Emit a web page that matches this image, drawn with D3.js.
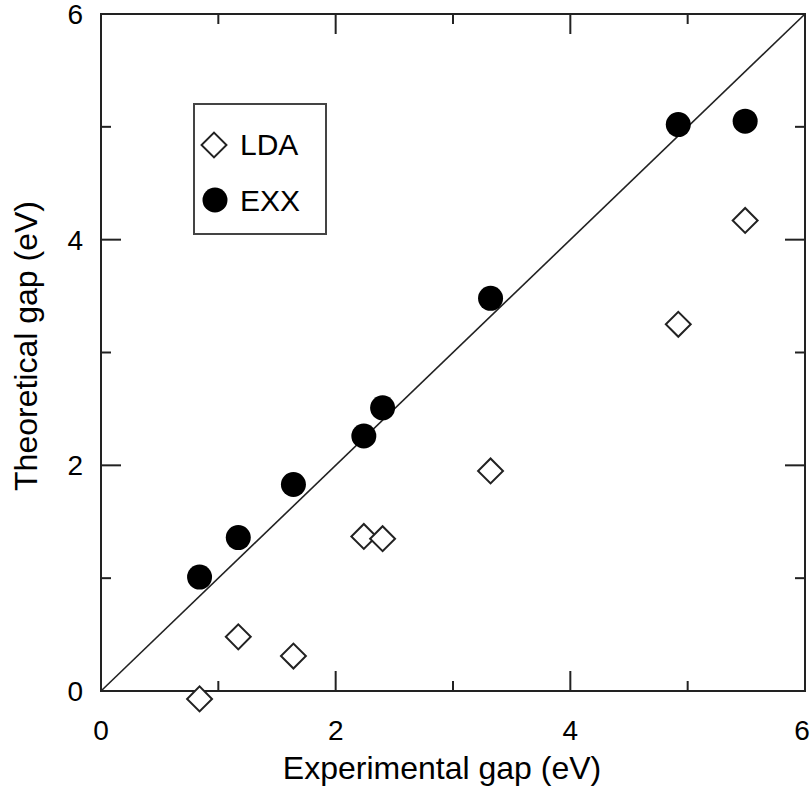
<!DOCTYPE html>
<html>
<head>
  <meta charset="utf-8">
  <script src="https://d3js.org/d3.v7.min.js"></script>
  <style>
    body { margin: 0; background: #fff; }
    svg { font-family: "Liberation Sans", Arial, sans-serif; }
  </style>
</head>
<body>
  <svg width="811" height="789"></svg>

  <script>
    // Experimental gaps (x) and theoretical values for each method
    const expGap = [0.84, 1.17, 1.64, 2.24, 2.40, 3.32, 4.92, 5.49];
    const ldaGap = [-0.07, 0.48, 0.31, 1.37, 1.35, 1.95, 3.25, 4.17];
    const exxGap = [1.01, 1.36, 1.83, 2.26, 2.51, 3.48, 5.02, 5.05];
    const majorTicks = [0, 2, 4, 6];
    const minorTicks = [1, 3, 5];
    const legendLabels = ["LDA", "EXX"];

    const svg = d3.select("svg");
    const pLeft = 101, pRight = 805, pTop = 14, pBottom = 691;

    const x = d3.scaleLinear().domain([0, 6]).range([pLeft, pRight]);
    const y = d3.scaleLinear().domain([0, 6]).range([pBottom, pTop]);

    const ink = "#222";

    // ticks on all four sides, pointing inward
    const tickG = svg.append("g").attr("stroke", ink).attr("stroke-width", 2);
    const allTicks = majorTicks.slice(1, -1).map(v => ({ v, len: 20 }))
      .concat(minorTicks.map(v => ({ v, len: 10 })));

    allTicks.forEach(t => {
      tickG.append("line").attr("x1", x(t.v)).attr("x2", x(t.v)).attr("y1", pBottom).attr("y2", pBottom - t.len);
      tickG.append("line").attr("x1", x(t.v)).attr("x2", x(t.v)).attr("y1", pTop).attr("y2", pTop + t.len);
      tickG.append("line").attr("y1", y(t.v)).attr("y2", y(t.v)).attr("x1", pLeft).attr("x2", pLeft + t.len);
      tickG.append("line").attr("y1", y(t.v)).attr("y2", y(t.v)).attr("x1", pRight).attr("x2", pRight - t.len);
    });

    // frame
    svg.append("rect")
      .attr("x", pLeft).attr("y", pTop)
      .attr("width", pRight - pLeft).attr("height", pBottom - pTop)
      .attr("fill", "none").attr("stroke", ink).attr("stroke-width", 2);

    // tick labels (keep the last x label inside the page edge)
    svg.append("g").selectAll("text")
      .data(majorTicks).join("text")
      .attr("x", d => Math.min(x(d), 802)).attr("y", 740)
      .attr("text-anchor", "middle")
      .attr("font-size", 28)
      .text(d => d);

    svg.append("g").selectAll("text")
      .data(majorTicks).join("text")
      .attr("x", 83).attr("y", d => y(d))
      .attr("dy", "0.36em")
      .attr("text-anchor", "end")
      .attr("font-size", 28)
      .text(d => d);

    // axis titles
    svg.append("text")
      .attr("x", 442).attr("y", 779)
      .attr("text-anchor", "middle")
      .attr("font-size", 32)
      .text("Experimental gap (eV)");

    svg.append("text")
      .attr("transform", "translate(37,346) rotate(-90)")
      .attr("text-anchor", "middle")
      .attr("font-size", 32)
      .text("Theoretical gap (eV)");

    // y = x reference line
    svg.append("line")
      .attr("x1", x(0)).attr("y1", y(0))
      .attr("x2", x(6)).attr("y2", y(6))
      .attr("stroke", ink).attr("stroke-width", 1.6);

    const diamond = d3.symbol(d3.symbolSquare, 310);

    // LDA: open diamonds
    svg.append("g").selectAll("path")
      .data(expGap.map((e, i) => [e, ldaGap[i]])).join("path")
      .attr("d", diamond)
      .attr("transform", d => `translate(${x(d[0])},${y(d[1])}) rotate(45)`)
      .attr("fill", "#fff").attr("stroke", ink).attr("stroke-width", 2);

    // EXX: filled circles
    svg.append("g").selectAll("circle")
      .data(expGap.map((e, i) => [e, exxGap[i]])).join("circle")
      .attr("cx", d => x(d[0])).attr("cy", d => y(d[1]))
      .attr("r", 12.5)
      .attr("fill", "#000");

    // legend
    const lg = svg.append("g");
    lg.append("rect")
      .attr("x", 194).attr("y", 104).attr("width", 132).attr("height", 130)
      .attr("fill", "#fff").attr("stroke", "#444").attr("stroke-width", 2);
    lg.append("path")
      .attr("d", diamond)
      .attr("transform", "translate(214,145) rotate(45)")
      .attr("fill", "#fff").attr("stroke", ink).attr("stroke-width", 2);
    lg.append("circle")
      .attr("cx", 215).attr("cy", 200).attr("r", 12.5).attr("fill", "#000");
    lg.selectAll("text")
      .data(legendLabels).join("text")
      .attr("x", 240).attr("y", (d, i) => 155 + i * 56)
      .attr("font-size", 30)
      .text(d => d);
  </script>
</body>
</html>
